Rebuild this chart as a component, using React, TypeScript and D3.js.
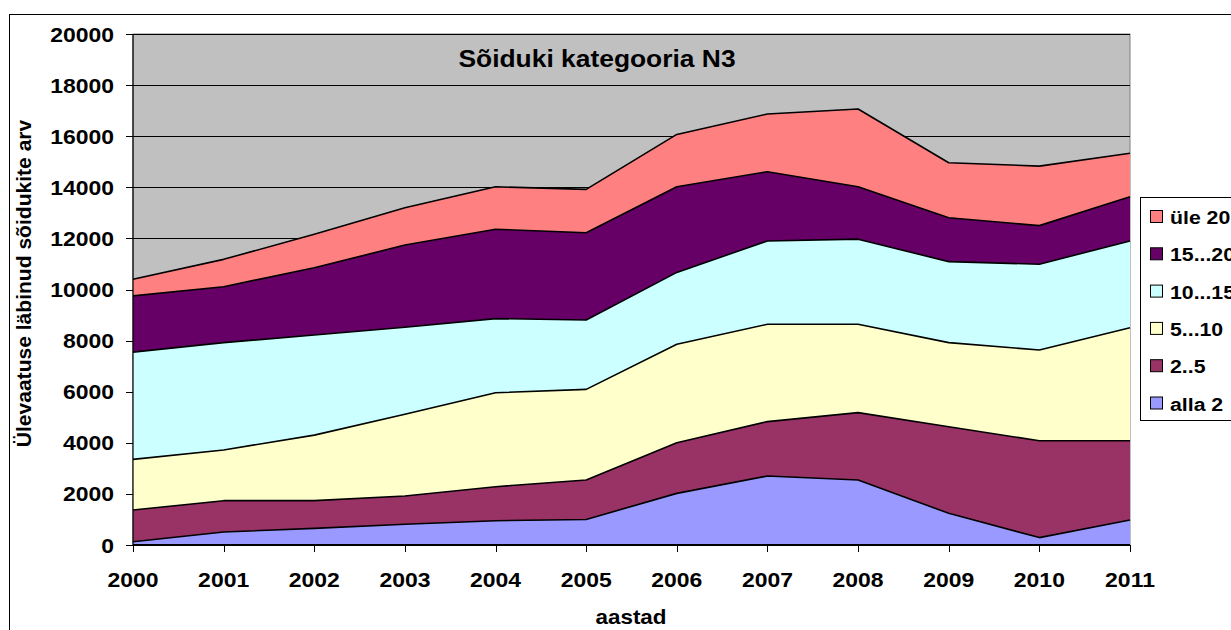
import React from "react";
import * as d3 from "d3";

const years = [2000, 2001, 2002, 2003, 2004, 2005, 2006, 2007, 2008, 2009, 2010, 2011];
const seriesNames = ["alla 2", "2..5", "5...10", "10...15", "15...20", "üle 20"];
const alla2 = [130, 510, 650, 810, 950, 1000, 2020, 2700, 2545, 1240, 290, 980];
const s2to5 = [1240, 1225, 1085, 1110, 1330, 1545, 1980, 2130, 2635, 3390, 3790, 3100];
const s5to10 = [1980, 1985, 2565, 3195, 3680, 3545, 3855, 3810, 3460, 3290, 3550, 4420];
const s10to15 = [4200, 4200, 3920, 3405, 2900, 2715, 2815, 3260, 3330, 3170, 3360, 3400];
const s15to20 = [2200, 2190, 2630, 3220, 3500, 3415, 3350, 2710, 2050, 1720, 1510, 1730];
const ule20 = [650, 1070, 1310, 1460, 1660, 1700, 2050, 2260, 3045, 2150, 2330, 1700];
const yTicks = [0, 2000, 4000, 6000, 8000, 10000, 12000, 14000, 16000, 18000, 20000];
const colors = ["#9999FF", "#993366", "#FFFFCC", "#CCFFFF", "#660066", "#FF8080"];

const seriesValues = [alla2, s2to5, s5to10, s10to15, s15to20, ule20];

function T(props: { x: number; y: number; size: number; sx: number; anchor?: string; rot?: number; children: any }) {
  const { x, y, size, sx, anchor, rot, children } = props;
  return (
    <text
      transform={`translate(${x},${y})${rot ? ` rotate(${rot})` : ""} scale(${sx},1)`}
      textAnchor={anchor || "start"}
      fontSize={size}
      fontWeight="bold"
    >
      {children}
    </text>
  );
}

export default function App() {
  const W = 1231, H = 630;
  const x0 = 133, x1 = 1130, yTop = 34, yBot = 545;
  const x = d3.scaleLinear().domain([years[0], years[years.length - 1]]).range([x0, x1]);
  const y = d3.scaleLinear().domain([0, 20000]).range([yBot, yTop]);

  const table = years.map((yr, i) => {
    const row: any = { year: yr };
    seriesNames.forEach((n, k) => (row[n] = seriesValues[k][i]));
    return row;
  });
  const stacked = d3.stack<any>().keys(seriesNames)(table);
  const area = d3.area<any>().x((d) => x(d.data.year)).y0((d) => y(d[0])).y1((d) => y(d[1]));
  const line = d3.line<any>().x((d) => x(d.data.year)).y((d) => y(d[1]));

  const font = "'Liberation Sans', Arial, sans-serif";
  const legendOrder = [...seriesNames.keys()].reverse();

  return (
    <svg width={W} height={H} style={{ position: "absolute", left: 0, top: 0 }} fontFamily={font}>
      <rect x={0} y={0} width={W} height={H} fill="#fff" />
      <rect x={9.5} y={14.5} width={W} height={H} fill="none" stroke="#000" strokeWidth={1} />
      <rect x={x0} y={yTop} width={x1 - x0} height={yBot - yTop} fill="#C0C0C0" stroke="#808080" strokeWidth={1} />
      {yTicks.map((t) => (
        <line key={t} x1={x0} x2={x1} y1={Math.round(y(t)) + 0.5} y2={Math.round(y(t)) + 0.5} stroke="#000" strokeWidth={1} />
      ))}
      {stacked.map((s, k) => (
        <path key={"a" + k} d={area(s) || ""} fill={colors[k]} stroke="none" />
      ))}
      {stacked.map((s, k) => (
        <path key={"l" + k} d={line(s) || ""} fill="none" stroke="#000" strokeWidth={1.6} strokeLinejoin="round" />
      ))}
      <line x1={x0} x2={x0} y1={yTop} y2={yBot} stroke="#000" strokeWidth={1.2} />
      <line x1={x0} x2={x1} y1={yBot} y2={yBot} stroke="#000" strokeWidth={2} />
      {yTicks.map((t) => (
        <g key={"yt" + t}>
          <line x1={x0 - 7} x2={x0} y1={Math.round(y(t)) + 0.5} y2={Math.round(y(t)) + 0.5} stroke="#000" />
          <T x={114} y={y(t) + 7.5} size={20.5} sx={1.12} anchor="end">
            {t}
          </T>
        </g>
      ))}
      {years.map((yr) => (
        <g key={"xt" + yr}>
          <line x1={Math.round(x(yr)) + 0.5} x2={Math.round(x(yr)) + 0.5} y1={yBot} y2={yBot + 7} stroke="#000" />
          <T x={x(yr)} y={587} size={20.5} sx={1.12} anchor="middle">
            {yr}
          </T>
        </g>
      ))}
      <T x={597} y={67} size={24} sx={1.1} anchor="middle">
        Sõiduki kategooria N3
      </T>
      <T x={631} y={624} size={20} sx={1.12} anchor="middle">
        aastad
      </T>
      <T x={31} y={(117 + 450) / 2} size={19.5} sx={1.08} anchor="middle" rot={-90}>
        Ülevaatuse läbinud sõidukite arv
      </T>
      <rect x={1140.5} y={197.5} width={120} height={223} fill="#fff" stroke="#000" strokeWidth={1} />
      {legendOrder.map((k, i) => {
        const cy = 217 + i * 37.3;
        return (
          <g key={"lg" + k}>
            <rect x={1150.5} y={cy - 6.5} width={12} height={12} fill={colors[k]} stroke="#000" strokeWidth={1} />
            <T x={1170} y={cy + 7} size={18.5} sx={1.15}>
              {seriesNames[k]}
            </T>
          </g>
        );
      })}
    </svg>
  );
}
